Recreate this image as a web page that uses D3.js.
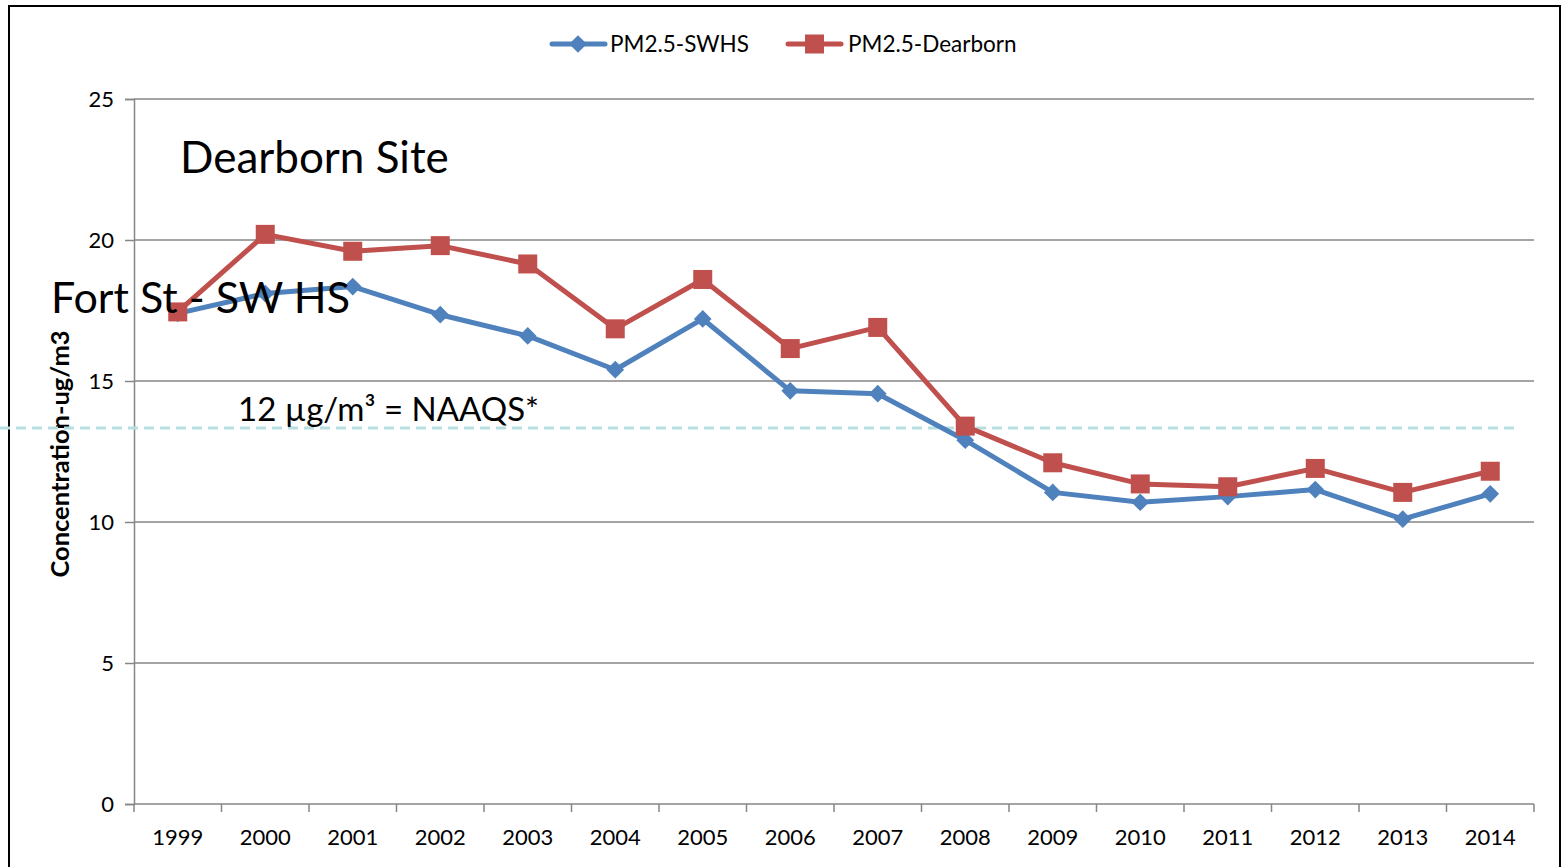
<!DOCTYPE html>
<html>
<head>
<meta charset="utf-8">
<script src="https://cdn.jsdelivr.net/npm/d3@7"></script>
<style>
body { margin: 0; background: #fff; }
svg text { font-family: Lato, "Open Sans", sans-serif; fill: #000; }
</style>
</head>
<body>
<svg id="chart" width="1566" height="867"></svg>
<script>
// values
var years = ["1999","2000","2001","2002","2003","2004","2005","2006","2007","2008","2009","2010","2011","2012","2013","2014"];
var swhs = [17.4, 18.1, 18.35, 17.35, 16.6, 15.4, 17.2, 14.65, 14.55, 12.9, 11.05, 10.7, 10.9, 11.15, 10.1, 11.0];
var dearborn = [17.45, 20.2, 19.6, 19.8, 19.15, 16.85, 18.6, 16.15, 16.9, 13.4, 12.1, 11.35, 11.25, 11.9, 11.05, 11.8];
var yTicks = [0, 5, 10, 15, 20, 25];
var naaqsLevel = 13.33;
var seriesNames = ["PM2.5-SWHS", "PM2.5-Dearborn"];
var seriesColors = ["#4F81BD", "#C0504D"];

var svg = d3.select("#chart");

// outer frame
svg.append("rect")
   .attr("x", 9).attr("y", 6)
   .attr("width", 1551).attr("height", 880)
   .attr("fill", "none").attr("stroke", "#000").attr("stroke-width", 2);

var plotLeft = 134, plotRight = 1534, plotTop = 99, plotBottom = 804;

var x = d3.scaleBand().domain(years).range([plotLeft, plotRight]);
var y = d3.scaleLinear().domain([0, 25]).range([plotBottom, plotTop]);

// grid lines
svg.append("g").selectAll("line")
   .data(yTicks)
   .enter()
   .append("line")
   .attr("x1", plotLeft).attr("x2", plotRight)
   .attr("y1", function(d){ return y(d); })
   .attr("y2", function(d){ return y(d); })
   .attr("stroke", "#868686")
   .attr("stroke-width", 1.5);

// y axis
var yAxis = svg.append("g")
   .attr("transform", "translate(" + plotLeft + ",0)")
   .call(d3.axisLeft(y).tickValues(yTicks).tickSize(9).tickPadding(11));
yAxis.select(".domain").attr("stroke", "#868686").attr("stroke-width", 1.5);
yAxis.selectAll(".tick line").attr("stroke", "#868686").attr("stroke-width", 1.5);
yAxis.selectAll(".tick text").style("font-size", "22px");

// x axis, ticks on the band edges
var xAxis = svg.append("g")
   .attr("transform", "translate(0," + plotBottom + ")")
   .call(d3.axisBottom(x).tickSize(0).tickPadding(25));
xAxis.select(".domain").remove();
xAxis.selectAll(".tick text").style("font-size", "22px");

var edges = years.map(function(d){ return x(d); }).concat([plotRight]);
svg.append("g").selectAll("line")
   .data(edges)
   .enter()
   .append("line")
   .attr("x1", function(d){ return d; }).attr("x2", function(d){ return d; })
   .attr("y1", plotBottom).attr("y2", plotBottom + 8)
   .attr("stroke", "#868686").attr("stroke-width", 1.5);

// y title
svg.append("text")
   .attr("transform", "translate(69,454) rotate(-90)")
   .attr("text-anchor", "middle")
   .style("font-size", "25.5px")
   .style("font-weight", "bold")
   .text("Concentration-ug/m3");

// NAAQS dashed line
svg.append("line")
   .attr("x1", 0).attr("x2", 1514)
   .attr("y1", y(naaqsLevel)).attr("y2", y(naaqsLevel))
   .attr("stroke", "#B7DEE1")
   .attr("stroke-width", 3)
   .attr("stroke-dasharray", "10,6");

svg.append("text")
   .attr("x", 238).attr("y", 421)
   .style("font-size", "33px")
   .text("12 \u00b5g/m\u00b3 = NAAQS*");

// series lines
var cx = function(d, i){ return x(years[i]) + x.bandwidth() / 2; };
var line = d3.line()
   .x(function(d, i){ return cx(d, i); })
   .y(function(d){ return y(d); });

[swhs, dearborn].forEach(function(vals, s){
   svg.append("path")
      .datum(vals)
      .attr("d", line)
      .attr("fill", "none")
      .attr("stroke", seriesColors[s])
      .attr("stroke-width", 5)
      .attr("stroke-linejoin", "round");
});

// markers
svg.append("g").selectAll("path")
   .data(swhs)
   .enter()
   .append("path")
   .attr("d", d3.symbol().type(d3.symbolDiamond2).size(200))
   .attr("transform", function(d, i){ return "translate(" + cx(d, i) + "," + y(d) + ")"; })
   .attr("fill", seriesColors[0]);

svg.append("g").selectAll("rect")
   .data(dearborn)
   .enter()
   .append("rect")
   .attr("x", function(d, i){ return cx(d, i) - 9.5; })
   .attr("y", function(d){ return y(d) - 9.5; })
   .attr("width", 19).attr("height", 19)
   .attr("fill", seriesColors[1]);

// annotations
svg.append("text")
   .attr("x", 180).attr("y", 173)
   .style("font-size", "44px")
   .text("Dearborn Site");

svg.append("text")
   .attr("x", 51).attr("y", 313)
   .style("font-size", "43px")
   .text("Fort St - SW HS");

// legend
var legendX = [552, 788];
var legend = svg.append("g").selectAll("g")
   .data(seriesNames)
   .enter()
   .append("g")
   .attr("transform", function(d, i){ return "translate(" + legendX[i] + ",44)"; });

legend.append("line")
   .attr("x1", 0).attr("x2", 53)
   .attr("stroke", function(d, i){ return seriesColors[i]; })
   .attr("stroke-width", 5)
   .attr("stroke-linecap", "round");

legend.filter(function(d, i){ return i === 0; })
   .append("path")
   .attr("d", d3.symbol().type(d3.symbolDiamond2).size(200))
   .attr("transform", "translate(26,0)")
   .attr("fill", seriesColors[0]);

legend.filter(function(d, i){ return i === 1; })
   .append("rect")
   .attr("x", 17).attr("y", -9.5).attr("width", 19).attr("height", 19)
   .attr("fill", seriesColors[1]);

legend.append("text")
   .attr("x", function(d, i){ return i === 0 ? 58 : 60; })
   .attr("y", 8)
   .style("font-size", "22.5px")
   .text(function(d){ return d; });
</script>
</body>
</html>
